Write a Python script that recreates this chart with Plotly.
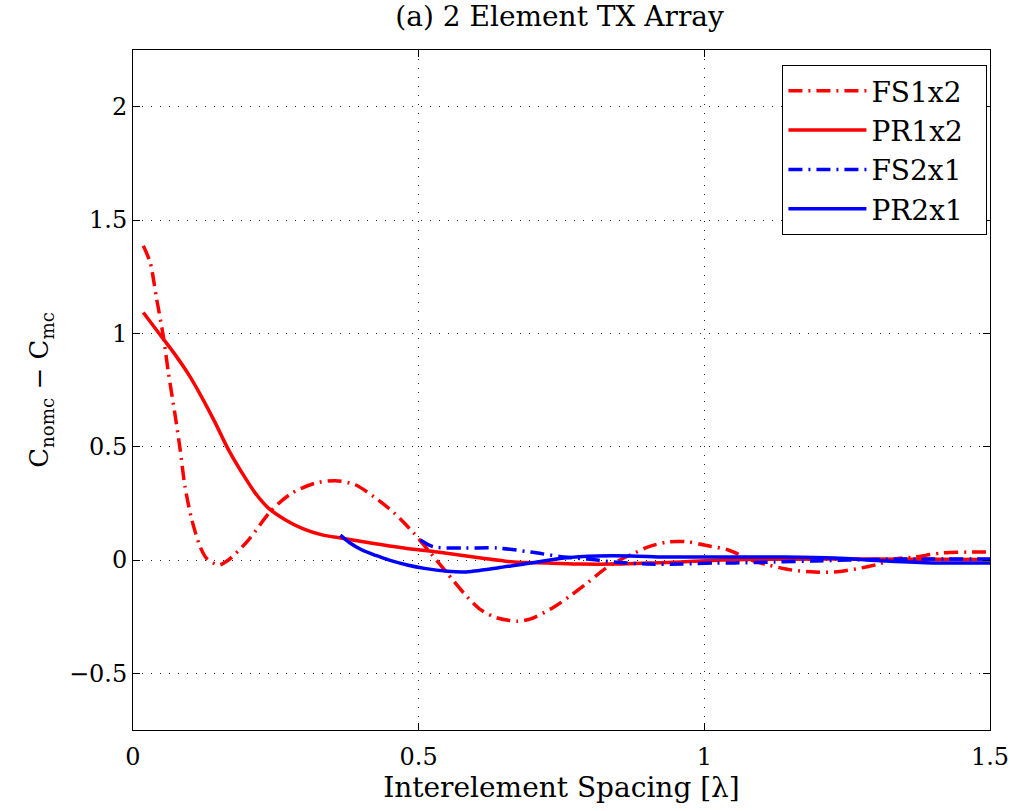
import plotly.graph_objects as go

# Capacity difference vs. interelement spacing, 2-element TX array
fs1x2_x = [0.018, 0.030, 0.0415, 0.053, 0.062, 0.074, 0.0825, 0.091, 0.103, 0.1175, 0.129, 0.150,
           0.167, 0.202, 0.243, 0.278, 0.319, 0.354, 0.389, 0.421,
           0.456, 0.491, 0.521, 0.550, 0.579, 0.609, 0.638, 0.673, 0.696, 0.737, 0.767, 0.796,
           0.819, 0.842, 0.877, 0.902, 0.937, 0.972, 1.000, 1.042, 1.082, 1.112, 1.153, 1.193,
           1.228, 1.275, 1.305, 1.333, 1.368, 1.416, 1.463, 1.500]
fs1x2_y = [1.386, 1.313, 1.150, 0.988, 0.826, 0.634, 0.487, 0.324, 0.177, 0.059, 0.007, -0.022,
           0.000, 0.088, 0.221, 0.295, 0.339, 0.350, 0.332, 0.280,
           0.210, 0.120, 0.030, -0.058, -0.146, -0.220, -0.256, -0.270, -0.260, -0.207, -0.155, -0.100,
           -0.052, -0.013, 0.030, 0.058, 0.080, 0.080, 0.066, 0.044, 0.000, -0.022, -0.044, -0.053,
           -0.053, -0.035, -0.018, 0.004, 0.013, 0.031, 0.035, 0.035]

pr1x2_x = [0.018, 0.050, 0.074, 0.097, 0.120, 0.144, 0.167, 0.191, 0.214, 0.237, 0.267, 0.296,
           0.331, 0.366, 0.416, 0.474, 0.533, 0.609, 0.667, 0.726, 0.784, 0.842, 0.900, 0.960,
           1.030, 1.100, 1.200, 1.300, 1.400, 1.500]
pr1x2_y = [1.092, 0.985, 0.905, 0.820, 0.720, 0.605, 0.487, 0.384, 0.295, 0.229, 0.177, 0.140,
           0.111, 0.096, 0.075, 0.053, 0.035, 0.009, -0.009, -0.013, -0.018, -0.018, -0.013, -0.009,
           0.000, 0.003, 0.004, 0.004, 0.003, 0.002]

fs2x1_x = [0.503, 0.526, 0.579, 0.638, 0.696, 0.754, 0.796, 0.842, 0.900, 0.960, 1.018, 1.053,
           1.123, 1.193, 1.250, 1.346, 1.400, 1.500]
fs2x1_y = [0.088, 0.058, 0.053, 0.053, 0.035, 0.013, 0.004, -0.009, -0.018, -0.018, -0.013, -0.013,
           -0.009, -0.004, 0.000, 0.004, 0.004, 0.004]

pr2x1_x = [0.363, 0.380, 0.400, 0.425, 0.450, 0.480, 0.510, 0.550, 0.580, 0.638, 0.696, 0.754,
           0.814, 0.872, 0.930, 0.989, 1.030, 1.140, 1.228, 1.316, 1.400, 1.500]
pr2x1_y = [0.110, 0.075, 0.045, 0.020, -0.002, -0.022, -0.037, -0.050, -0.053, -0.035, -0.013, 0.009,
           0.018, 0.018, 0.013, 0.013, 0.013, 0.013, 0.009, -0.004, -0.013, -0.013]

x_ticks = [0, 0.5, 1, 1.5]
x_tick_text = ["0", "0.5", "1", "1.5"]
y_ticks = [-0.5, 0, 0.5, 1, 1.5, 2]
y_tick_text = ["\u22120.5", "0", "0.5", "1", "1.5", "2"]

RED = "#ff0000"
BLUE = "#0000ff"
DASHDOT = "14px,6px,2px,6px"
FONT = "DejaVu Serif"
PAD = "\u00a0\u00a0"  # right padding inside the legend box

series = [
    ("FS1x2", fs1x2_x, fs1x2_y, RED, DASHDOT),
    ("PR1x2", pr1x2_x, pr1x2_y, RED, "solid"),
    ("FS2x1", fs2x1_x, fs2x1_y, BLUE, DASHDOT),
    ("PR2x1", pr2x1_x, pr2x1_y, BLUE, "solid"),
]

fig = go.Figure()
for name, xs, ys, color, dash in series:
    fig.add_trace(go.Scatter(
        x=xs, y=ys, mode="lines", name=name + PAD, legendgroup=name,
        line=dict(color=color, width=3.5, dash=dash, shape="spline", smoothing=0.8),
    ))

axis_common = dict(
    automargin=False,
    showline=True, linecolor="black", linewidth=1, mirror="allticks",
    ticks="inside", ticklen=7, tickwidth=1, tickcolor="black",
    showgrid=True, gridcolor="#222222", gridwidth=1, griddash="1px,8px",
    zeroline=False,
    tickfont=dict(family=FONT, size=24, color="black"),
)

fig.update_xaxes(
    range=[0, 1.5], tickvals=x_ticks, ticktext=x_tick_text, ticklabelstandoff=5,
    title=dict(text="Interelement Spacing [\u03bb]", font=dict(family=FONT, size=28, color="black"), standoff=2),
    **axis_common,
)
fig.update_yaxes(
    range=[-0.75, 2.25], tickvals=y_ticks, ticktext=y_tick_text,
    title=dict(text="C<sub>nomc</sub> \u2212 C<sub>mc</sub>", font=dict(family=FONT, size=26, color="black"), standoff=12),
    **axis_common,
)

fig.update_layout(
    width=1011, height=811,
    margin=dict(l=133, r=21, t=50, b=81),
    paper_bgcolor="white", plot_bgcolor="white",
    font=dict(family=FONT, size=24, color="black"),
    title=dict(text="(a) 2 Element TX Array", x=0.5535, xanchor="center",
               y=1 - 16 / 811, yanchor="middle", yref="container",
               font=dict(family=FONT, size=28, color="black")),
    legend=dict(
        x=0.997, y=0.978, xanchor="right", yanchor="top",
        bgcolor="white", bordercolor="black", borderwidth=1,
        font=dict(family=FONT, size=28, color="black"),
        itemwidth=78, tracegroupgap=0,
    ),
    showlegend=True,
)

fig.write_html("out.html")
